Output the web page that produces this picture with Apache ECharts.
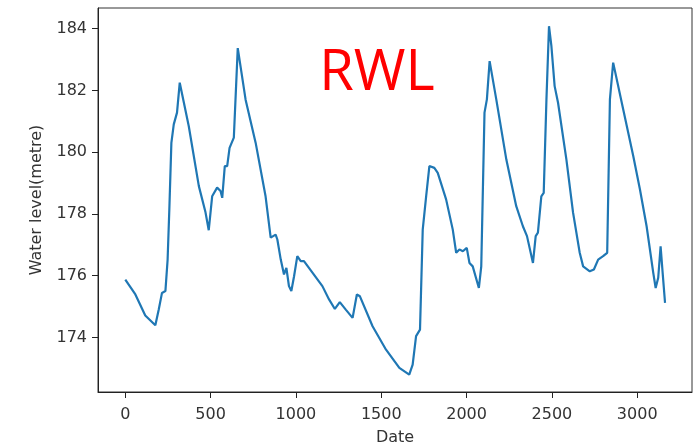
<!DOCTYPE html>
<html>
<head>
  <meta charset="utf-8">
  <title>RWL</title>
  <style>
    html, body { margin: 0; padding: 0; background: #fff; }
    #main { width: 698px; height: 448px; }
  </style>
</head>
<body>
<div id="main"></div>
<script src="https://cdn.jsdelivr.net/npm/echarts@6/dist/echarts.min.js"></script>
<script>
  // day index along the record
  var dates = [
    0, 59, 117, 176, 196, 215, 235, 248, 258, 270, 284, 303, 319, 372, 431, 470, 489, 509,
    538, 558, 568, 583, 597, 611, 636, 659, 705, 764, 822, 852, 881, 891, 911, 930, 944,
    959, 973, 989, 1008, 1028, 1047, 1155, 1194, 1228, 1257, 1292, 1332, 1357, 1375, 1449,
    1528, 1606, 1664, 1684, 1704, 1727, 1743, 1763, 1782, 1811, 1831, 1880, 1919, 1939,
    1958, 1978, 2001, 2017, 2036, 2072, 2086, 2105, 2119, 2135, 2174, 2233, 2291, 2330,
    2354, 2389, 2405, 2418, 2438, 2452, 2468, 2483, 2497, 2516, 2536, 2585, 2624, 2663,
    2683, 2722, 2746, 2771, 2800, 2824, 2840, 2859, 2918, 2977, 3016, 3055, 3094, 3108,
    3123, 3137, 3149, 3163
  ];
  // water level (metre)
  var levels = [
    175.87, 175.39, 174.71, 174.39, 174.9, 175.44, 175.5, 176.52, 178.14, 180.3, 180.9, 181.28, 182.25, 180.84, 178.9, 178.05, 177.47, 178.57,
    178.85, 178.74, 178.52, 179.55, 179.55, 180.14, 180.47, 183.37, 181.7, 180.3, 178.57, 177.23, 177.33, 177.17, 176.52, 176.04, 176.25,
    175.66, 175.5, 175.98, 176.63, 176.47, 176.47, 175.66, 175.23, 174.92, 175.14, 174.9, 174.63, 175.39, 175.33, 174.36,
    173.6, 173.01, 172.79, 173.12, 174.04, 174.25, 177.49, 178.57, 179.55, 179.49, 179.33, 178.47, 177.49, 176.74,
    176.85, 176.79, 176.9, 176.41, 176.3, 175.6, 176.3, 181.28, 181.71, 182.95, 181.71, 179.76, 178.25, 177.6,
    177.28, 176.41, 177.28, 177.39, 178.57, 178.68, 181.71, 184.08, 183.44, 182.14, 181.6, 179.76, 178.04, 176.74,
    176.3, 176.14, 176.2, 176.52, 176.63, 176.74, 181.71, 182.9, 181.38, 179.87, 178.79, 177.6, 176.09, 175.6,
    175.93, 176.95, 176.09, 175.12
  ];
  var xTicks = [0, 500, 1000, 1500, 2000, 2500, 3000];
  var yTicks = [174, 176, 178, 180, 182, 184];

  var points = dates.map(function (d, i) { return [d, levels[i]]; });
  var font = 'DejaVu Sans';

  var myChart = echarts.init(document.getElementById('main'));
  myChart.setOption({
    animation: false,
    title: {
      text: 'RWL',
      left: 372,
      top: 41,
      textAlign: 'center',
      textStyle: { color: '#ff0000', fontSize: 56, fontWeight: 'normal', fontFamily: 'Open Sans' }
    },
    grid: {
      left: 98, right: 6, top: 8, bottom: 56,
      containLabel: false,
      outerBoundsMode: 'none',
      show: true, borderColor: '#333', borderWidth: 1
    },
    xAxis: {
      type: 'value',
      min: -160,
      max: 3321,
      name: 'Date',
      nameLocation: 'middle',
      nameGap: 38,
      nameTextStyle: { color: '#333', fontSize: 16, fontFamily: font },
      axisLine: { show: true, onZero: false, lineStyle: { color: '#222' } },
      axisTick: { show: true, length: 6, customValues: xTicks, lineStyle: { color: '#222' } },
      axisLabel: {
        customValues: xTicks, color: '#333', fontSize: 16, fontFamily: font, margin: 15,
        formatter: function (v) { return String(v); }
      },
      splitLine: { show: false }
    },
    yAxis: {
      type: 'value',
      min: 172.23,
      max: 184.67,
      name: 'Water level(metre)',
      nameLocation: 'middle',
      nameGap: 53,
      nameTextStyle: { color: '#333', fontSize: 16, fontFamily: font },
      axisLine: { show: true, onZero: false, lineStyle: { color: '#222' } },
      axisTick: { show: true, length: 6, customValues: yTicks, lineStyle: { color: '#222' } },
      axisLabel: { customValues: yTicks, color: '#333', fontSize: 16, fontFamily: font, margin: 11 },
      splitLine: { show: false }
    },
    series: [{
      type: 'line',
      data: points,
      showSymbol: false,
      lineStyle: { color: '#1f77b4', width: 2.2 },
      itemStyle: { color: '#1f77b4' }
    }]
  });
</script>
</body>
</html>
